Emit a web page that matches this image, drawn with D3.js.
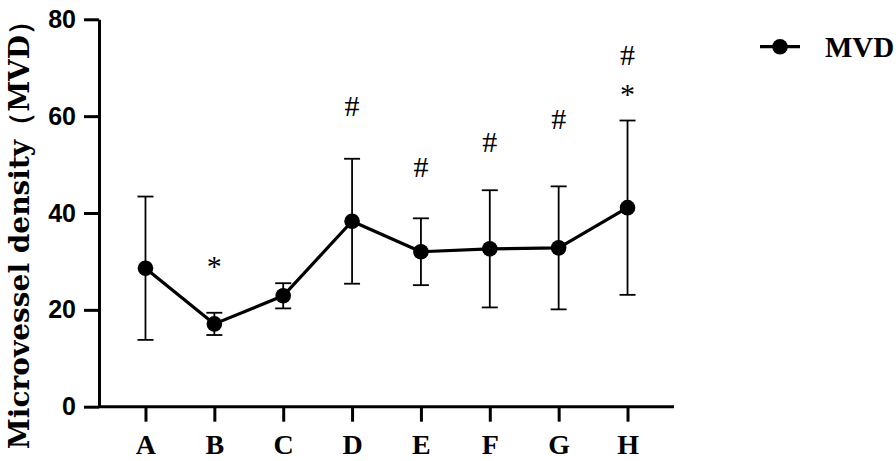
<!DOCTYPE html>
<html>
<head>
<meta charset="utf-8">
<script src="https://cdn.jsdelivr.net/npm/d3@7"></script>
<style>
  body { margin: 0; background: #fff; }
  svg { display: block; }
</style>
</head>
<body>
<div id="chart"></div>
<script>
// data
var categories = ["A", "B", "C", "D", "E", "F", "G", "H"];
var mvdMean = [28.6, 17.1, 22.9, 38.3, 32.0, 32.6, 32.8, 41.1];
var mvdSD = [14.8, 2.3, 2.6, 12.9, 6.9, 12.1, 12.7, 18.0];
var yTicks = [0, 20, 40, 60, 80];
var seriesName = ["MVD"];

// significance marks (group, symbol, baseline value)
var markCats = ["B", "D", "E", "F", "G", "H", "H"];
var markText = ["*", "#", "#", "#", "#", "#", "*"];
var markValue = [27.0, 60.0, 47.4, 52.6, 57.3, 70.6, 62.6];

var W = 896, H = 461;
var margin = {top: 19.3, left: 99, right: 222, bottom: 54.3};

var svg = d3.select("#chart")
  .append("svg")
    .attr("width", W)
    .attr("height", H);

var x = d3.scalePoint()
  .domain(categories)
  .range([margin.left, W - margin.right])
  .padding(0.675);

var y = d3.scaleLinear()
  .domain([0, 80])
  .range([H - margin.bottom, margin.top]);

var serif = "'Liberation Serif', 'Times New Roman', serif";

// y axis
var yAxis = svg.append("g")
  .attr("transform", "translate(" + margin.left + ",0)")
  .call(d3.axisLeft(y).tickValues(yTicks).tickSize(15).tickSizeOuter(0).tickPadding(8));
yAxis.select(".domain").attr("stroke-width", 3).attr("stroke", "#000");
yAxis.selectAll(".tick line").attr("stroke-width", 3).attr("stroke", "#000");
yAxis.selectAll("text")
  .attr("fill", "#000")
  .style("font-family", "'Liberation Sans', Arial, sans-serif")
  .style("font-weight", "bold")
  .style("font-size", "25px");

// x axis
var xAxis = svg.append("g")
  .attr("transform", "translate(0," + y(0) + ")")
  .call(d3.axisBottom(x).tickSize(15).tickSizeOuter(0));
xAxis.select(".domain")
  .attr("stroke-width", 3).attr("stroke", "#000")
  .attr("d", "M" + margin.left + ",0H" + (W - margin.right));
xAxis.selectAll(".tick line").attr("stroke-width", 3).attr("stroke", "#000");
xAxis.selectAll("text")
  .attr("fill", "#000")
  .attr("y", 47.5)
  .attr("dy", 0)
  .style("font-family", serif)
  .style("font-weight", "bold")
  .style("font-size", "28px");

// y title
svg.append("text")
  .attr("transform", "translate(29,228) rotate(-90)")
  .attr("text-anchor", "middle")
  .style("font-family", "'DejaVu Serif', serif")
  .style("font-weight", "bold")
  .style("font-size", "28px")
  .text("Microvessel density（MVD）");

var pts = categories.map(function(c, i) {
  return {cat: c, mean: mvdMean[i], sd: mvdSD[i]};
});

// error bars
var capW = 8;
var eb = svg.append("g").attr("stroke", "#000").attr("stroke-width", 1.8);
eb.selectAll(".stem")
  .data(pts).enter().append("line")
    .attr("x1", function(d) { return x(d.cat); })
    .attr("x2", function(d) { return x(d.cat); })
    .attr("y1", function(d) { return y(d.mean - d.sd); })
    .attr("y2", function(d) { return y(d.mean + d.sd); });
eb.selectAll(".capTop")
  .data(pts).enter().append("line")
    .attr("x1", function(d) { return x(d.cat) - capW; })
    .attr("x2", function(d) { return x(d.cat) + capW; })
    .attr("y1", function(d) { return y(d.mean + d.sd); })
    .attr("y2", function(d) { return y(d.mean + d.sd); });
eb.selectAll(".capBot")
  .data(pts).enter().append("line")
    .attr("x1", function(d) { return x(d.cat) - capW; })
    .attr("x2", function(d) { return x(d.cat) + capW; })
    .attr("y1", function(d) { return y(d.mean - d.sd); })
    .attr("y2", function(d) { return y(d.mean - d.sd); });

// line + markers
svg.append("path")
  .datum(pts)
  .attr("fill", "none")
  .attr("stroke", "#000")
  .attr("stroke-width", 3.2)
  .attr("stroke-linejoin", "round")
  .attr("d", d3.line()
    .x(function(d) { return x(d.cat); })
    .y(function(d) { return y(d.mean); }));

svg.selectAll(".dot")
  .data(pts).enter().append("circle")
    .attr("cx", function(d) { return x(d.cat); })
    .attr("cy", function(d) { return y(d.mean); })
    .attr("r", 7.8)
    .attr("fill", "#000");

// significance marks
var marks = markCats.map(function(c, i) {
  return {cat: c, text: markText[i], value: markValue[i]};
});
svg.selectAll(".mark")
  .data(marks).enter().append("text")
    .attr("x", function(d) { return x(d.cat); })
    .attr("y", function(d) { return y(d.value); })
    .attr("text-anchor", "middle")
    .style("font-family", serif)
    .style("font-size", "30px")
    .text(function(d) { return d.text; });

// legend
var lg = svg.append("g").attr("transform", "translate(760,46.7)");
lg.append("line")
  .attr("x1", 0).attr("x2", 40)
  .attr("stroke", "#000").attr("stroke-width", 3.2);
lg.append("circle").attr("cx", 20).attr("r", 7.8).attr("fill", "#000");
lg.append("text")
  .attr("x", 65).attr("y", 10)
  .style("font-family", serif)
  .style("font-weight", "bold")
  .style("font-size", "29px")
  .text(seriesName[0]);
</script>
</body>
</html>
